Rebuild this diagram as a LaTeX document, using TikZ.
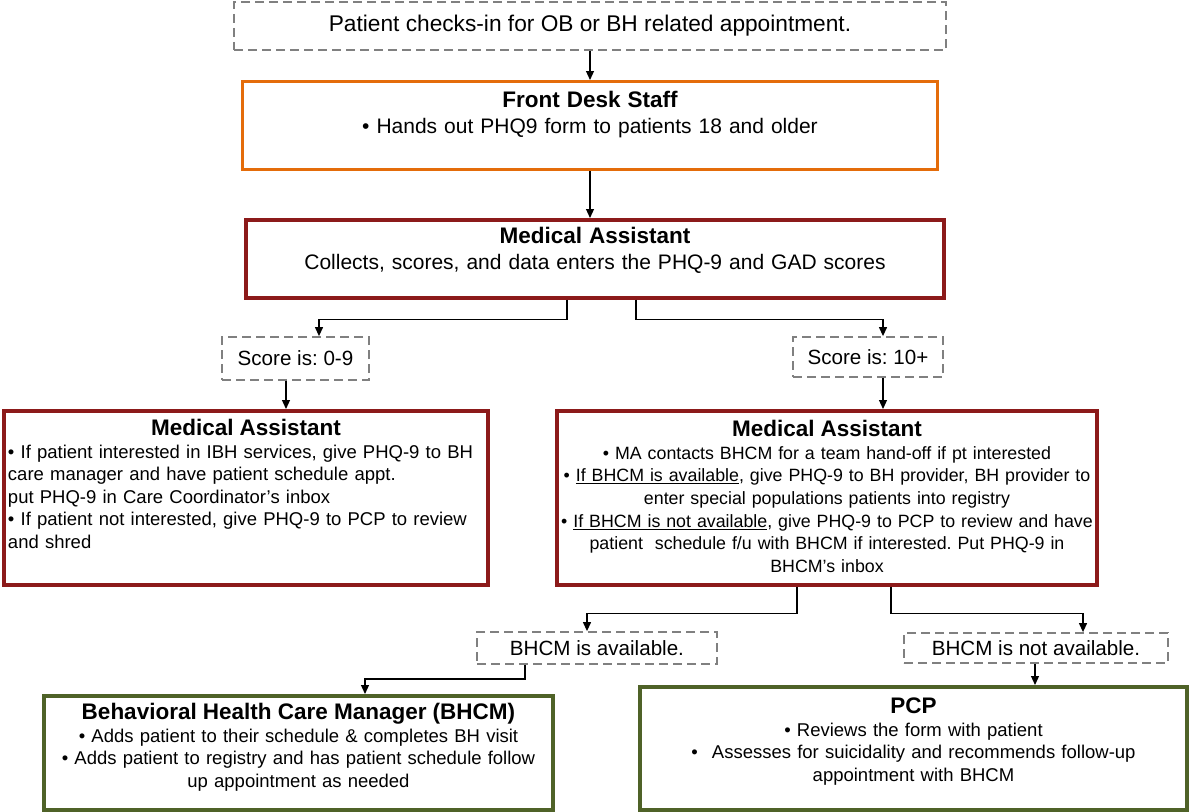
\documentclass[tikz,border=0pt]{standalone}
\usepackage{fontspec}
\setmainfont{Liberation Sans}
\usetikzlibrary{arrows.meta, positioning, calc}
\frenchspacing

\definecolor{deskorange}{RGB}{228,108,10}
\definecolor{mared}{RGB}{140,26,26}
\definecolor{staffgreen}{RGB}{79,98,40}
\definecolor{notegray}{RGB}{128,128,128}

\newcommand{\boxtitle}[1]{{\fontsize{22.5}{26}\selectfont\bfseries #1}}

\begin{document}
\begin{tikzpicture}[
    x=1pt, y=-1pt,
    every node/.style={font=\fontsize{18.5}{22.5}\selectfont}, % body text
    note/.style={rectangle, draw=notegray, line width=1.8pt, dash pattern=on 9pt off 5pt,
        inner sep=0pt, font=\fontsize{20.6}{24}\selectfont}, % dashed step boxes
    panel/.style={rectangle, align=center, inner xsep=4pt, inner ysep=4pt, anchor=north},
    deskbox/.style={panel, draw=deskorange, line width=3pt},
    mabox/.style={panel, draw=mared, line width=3.5pt},
    staffbox/.style={panel, draw=staffgreen, line width=3.5pt},
    arr/.style={line width=1.2pt, -{Triangle[length=9pt, width=8pt]}}
]
    \useasboundingbox (0,0) rectangle (1191,811);

    % 1. check-in and front desk
    \node[note, minimum width=712pt, minimum height=48pt, font=\fontsize{22.7}{26}\selectfont]
        (checkin) at (590,26) {Patient checks-in for OB or BH related appointment.};
    \node[deskbox, text width=687pt, text height=22pt, text depth=58pt, font=\fontsize{21}{26}\selectfont]
        (desk) at (590,80) {\boxtitle{Front Desk Staff}\\
        • Hands out PHQ9 form to patients 18 and older};

    % 2. medical assistant scores the forms
    \node[mabox, text width=690pt, text height=20pt, text depth=50pt, font=\fontsize{21}{26}\selectfont]
        (collect) at (595,218) {\boxtitle{Medical Assistant}\\
        Collects, scores, and data enters the PHQ-9 and GAD scores};

    \node[note, minimum width=147pt, minimum height=43pt] (low) at (295.5,358.5) {Score is: 0-9};
    \node[note, minimum width=150pt, minimum height=40pt] (high) at (868,357) {Score is: 10+};

    % 3. follow-up by score
    \node[mabox, align=left, text width=476pt, text height=21pt, text depth=145pt]
        (malow) at (246,409) {{\centering\boxtitle{Medical Assistant}\par}
        • If patient interested in IBH services, give PHQ-9 to BH\\
        care manager and have patient schedule appt.\\
        put PHQ-9 in Care Coordinator’s inbox\\
        • If patient not interested, give PHQ-9 to PCP to review\\
        and shred};
    \node[mabox, inner xsep=2pt, text width=536pt, text height=22pt, text depth=144pt,
        font=\fontsize{17.8}{22.6}\selectfont]
        (mahigh) at (827,409) {\boxtitle{Medical Assistant}\\
        • MA contacts BHCM for a team hand-off if pt interested\\
        • \underline{If BHCM is available}, give PHQ-9 to BH provider, BH provider to\\
        enter special populations patients into registry\\
        • \underline{If BHCM is not available}, give PHQ-9 to PCP to review and have\\
        patient\ \ schedule f/u with BHCM if interested. Put PHQ-9 in\\
        BHCM’s inbox};

    % 4. BHCM available or not
    \node[note, minimum width=240pt, minimum height=32pt] (avail) at (597,648) {BHCM is available.};
    \node[note, minimum width=264pt, minimum height=30pt] (notavail) at (1036,648) {BHCM is not available.};

    \node[staffbox, text width=501pt, text height=20pt, text depth=86pt]
        (bhcm) at (298.5,694) {\boxtitle{Behavioral Health Care Manager (BHCM)}\\
        • Adds patient to their schedule \& completes BH visit\\
        • Adds patient to registry and has patient schedule follow\\
        up appointment as needed};
    \node[staffbox, text width=539pt, text height=23pt, text depth=92pt]
        (pcp) at (913.5,685) {\boxtitle{PCP}\\
        • Reviews the form with patient\\
        •\hspace{14pt}Assesses for suicidality and recommends follow-up\\
        appointment with BHCM};

    % connectors
    \draw[arr] (checkin.south) -- (desk.north);
    \draw[arr] (desk.south) -- (desk.south |- collect.north);
    \draw[arr] ([xshift=-28pt]collect.south) -- ++(0,20) -| ([xshift=23.5pt]low.north);
    \draw[arr] ([xshift=41pt]collect.south) -- ++(0,20) -| ([xshift=15pt]high.north);
    \draw[arr] ([xshift=-9.5pt]low.south) -- ([xshift=-9.5pt]low.south |- malow.north);
    \draw[arr] ([xshift=15pt]high.south) -- ([xshift=15pt]high.south |- mahigh.north);
    \draw[arr] ([xshift=-30pt]mahigh.south) -- ++(0,27) -| ([xshift=-10pt]avail.north);
    \draw[arr] ([xshift=64pt]mahigh.south) -- ++(0,27) -| ([xshift=47pt]notavail.north);
    \draw[arr] ([xshift=-72pt]avail.south) -- ++(0,14) -| ([xshift=66.5pt]bhcm.north);
    \draw[arr] ([xshift=-1pt]notavail.south) -- ([xshift=-1pt]notavail.south |- pcp.north);

\end{tikzpicture}
\end{document}
